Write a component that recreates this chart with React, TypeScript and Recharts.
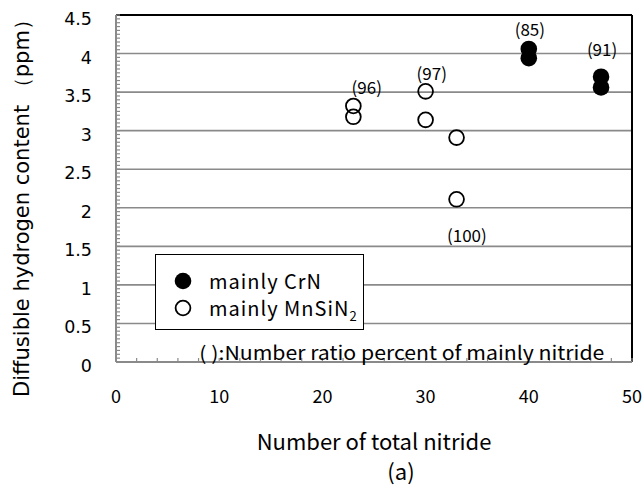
import React from 'react';
import {
    ScatterChart,
    Scatter,
    XAxis,
    YAxis,
    CartesianGrid,
    ReferenceLine,
    ReferenceDot,
    Legend,
} from 'recharts';

// diffusible hydrogen (ppm) vs number of total nitride
const crnPoints = [
    { x: 40, y: 4.06 },
    { x: 40, y: 3.94 },
    { x: 47, y: 3.7 },
    { x: 47, y: 3.56 },
];

const mnsin2Points = [
    { x: 23, y: 3.32 },
    { x: 23, y: 3.18 },
    { x: 30, y: 3.51 },
    { x: 30, y: 3.14 },
    { x: 33, y: 2.91 },
    { x: 33, y: 2.11 },
];

// number ratio percent of the main nitride, placed near each group
const ratioLabels = [
    { x: 40.1, y: 4.31, text: '(85)' },
    { x: 47.1, y: 4.05, text: '(91)' },
    { x: 30.6, y: 3.73, text: '(97)' },
    { x: 24.3, y: 3.55, text: '(96)' },
    { x: 34.0, y: 1.63, text: '(100)' },
];

const xTicks = [0, 10, 20, 30, 40, 50];
const yTicks = [0, 0.5, 1, 1.5, 2, 2.5, 3, 3.5, 4, 4.5];
const xMinorStep = 2;
const yMinorStep = 0.05;

const xMinorTicks = Array.from({ length: 50 / xMinorStep + 1 }, (_, i) => i * xMinorStep);
const yMinorTicks = Array.from({ length: Math.round(4.5 / yMinorStep) + 1 }, (_, i) =>
    Math.round(i * yMinorStep * 100) / 100
);

const gothic = '"Noto Sans CJK JP", "Noto Sans", sans-serif';
const sans = '"DejaVu Sans", "Noto Sans", sans-serif';

const FilledDot = (p: any) => <circle cx={p.cx} cy={p.cy} r={8.3} fill="#000" />;
const OpenDot = (p: any) => (
    <circle cx={p.cx} cy={p.cy} r={7.4} fill="none" stroke="#000" strokeWidth={1.8} />
);

const XTick = ({ x, y, payload }: any) =>
    xTicks.includes(payload.value) ? (
        <text x={x} y={y} dy="0.71em" textAnchor="middle" fontSize={18} fontFamily={gothic} fill="#000">
            {payload.value}
        </text>
    ) : null;

const YTick = ({ x, y, payload }: any) =>
    yTicks.includes(payload.value) ? (
        <text x={x} y={y} dy={10} textAnchor="end" fontSize={17.5} fontFamily={sans} fill="#000">
            {payload.value}
        </text>
    ) : null;

const YTitle = ({ viewBox }: any) => {
    const x = viewBox.x + 22;
    const y = viewBox.y + 188;
    return (
        <text
            x={x}
            y={y}
            transform={`rotate(-90, ${x}, ${y})`}
            textAnchor="middle"
            dominantBaseline="central"
            fontFamily={sans}
            fontSize={21}
            fill="#000"
        >
            Diffusible hydrogen content （ppm）
        </text>
    );
};

const XTitle = ({ viewBox }: any) => {
    const cx = viewBox.x + viewBox.width / 2;
    return (
        <g fontFamily={gothic} fontSize={22} fill="#000">
            <text x={cx} y={viewBox.y + 88} textAnchor="middle">
                Number of total nitride
            </text>
            <text x={cx + 27} y={viewBox.y + 118} textAnchor="middle">
                (a)
            </text>
        </g>
    );
};

const Footnote = ({ viewBox }: any) => (
    <text
        x={viewBox.x}
        y={viewBox.y}
        dy="0.36em"
        textAnchor="middle"
        fontSize={19}
        fontFamily={gothic}
        fill="#000"
        textLength={405}
        lengthAdjust="spacingAndGlyphs"
    >
        ( ):Number ratio percent of  mainly nitride
    </text>
);

const LegendBox = ({ payload }: any) => (
    <div
        style={{
            width: 209,
            height: 76,
            boxSizing: 'border-box',
            border: '1.5px solid #000',
            background: '#fff',
            paddingTop: 12,
            fontFamily: gothic,
            fontSize: 20,
            lineHeight: '26px',
            letterSpacing: 1,
            color: '#000',
        }}
    >
        {(payload || []).map((entry: any) => {
            const filled = entry.value === 'mainly CrN';
            return (
                <div
                    key={entry.value}
                    style={{ display: 'flex', alignItems: 'center', height: 27, paddingLeft: 17 }}
                >
                    <svg width={20} height={20} style={{ marginRight: 16, flexShrink: 0 }}>
                        {filled ? (
                            <circle cx={10} cy={10} r={8.3} fill="#000" />
                        ) : (
                            <circle cx={10} cy={10} r={7.4} fill="none" stroke="#000" strokeWidth={1.8} />
                        )}
                    </svg>
                    <span>
                        {filled ? (
                            'mainly CrN'
                        ) : (
                            <>
                                mainly MnSiN
                                <sub style={{ fontSize: 13, lineHeight: 0 }}>2</sub>
                            </>
                        )}
                    </span>
                </div>
            );
        })}
    </div>
);

const App: React.FC = () => {
    return (
        <div style={{ position: 'absolute', left: 0, top: 0, background: '#fff' }}>
            <ScatterChart width={644} height={489} margin={{ top: 15, right: 12, left: 0, bottom: 0 }}>
                <CartesianGrid
                    xAxisId="main"
                    yAxisId="main"
                    vertical={false}
                    horizontalValues={yTicks}
                    stroke="#8a8a8a"
                    strokeWidth={1.6}
                />
                <XAxis
                    type="number"
                    dataKey="x"
                    xAxisId="main"
                    domain={[0, 50]}
                    ticks={xMinorTicks}
                    interval={0}
                    height={127}
                    tickSize={-4}
                    tickMargin={32}
                    tickLine={{ stroke: '#8a8a8a', strokeWidth: 1.2 }}
                    axisLine={{ stroke: '#8a8a8a', strokeWidth: 2 }}
                    tick={XTick}
                    label={{ content: XTitle }}
                />
                <YAxis
                    type="number"
                    dataKey="y"
                    yAxisId="main"
                    domain={[0, 4.5]}
                    ticks={yMinorTicks}
                    interval={0}
                    width={116}
                    tickSize={-4}
                    tickMargin={28}
                    tickLine={{ stroke: '#8a8a8a', strokeWidth: 1.2 }}
                    axisLine={{ stroke: '#8a8a8a', strokeWidth: 2 }}
                    tick={YTick}
                    label={{ content: YTitle }}
                />
                <ReferenceLine xAxisId="main" yAxisId="main" y={4.5} stroke="#000" strokeWidth={2} />
                <ReferenceLine xAxisId="main" yAxisId="main" x={50} stroke="#000" strokeWidth={2} />
                <Scatter
                    name="mainly CrN"
                    data={crnPoints}
                    xAxisId="main"
                    yAxisId="main"
                    shape={FilledDot}
                    isAnimationActive={false}
                />
                <Scatter
                    name="mainly MnSiN2"
                    data={mnsin2Points}
                    xAxisId="main"
                    yAxisId="main"
                    shape={OpenDot}
                    isAnimationActive={false}
                />
                {ratioLabels.map((a) => (
                    <ReferenceDot
                        key={a.text}
                        xAxisId="main"
                        yAxisId="main"
                        x={a.x}
                        y={a.y}
                        r={0}
                        fill="none"
                        stroke="none"
                        label={{
                            value: a.text,
                            position: 'center',
                            fill: '#000',
                            fontSize: 17,
                            fontFamily: gothic,
                        }}
                    />
                ))}
                <ReferenceDot
                    xAxisId="main"
                    yAxisId="main"
                    x={27.7}
                    y={0.12}
                    r={0}
                    fill="none"
                    stroke="none"
                    label={{ content: Footnote }}
                />
                <Legend
                    layout="vertical"
                    align="center"
                    verticalAlign="middle"
                    content={LegendBox}
                    wrapperStyle={{ left: 155, top: 254, width: 209, height: 76 }}
                />
            </ScatterChart>
        </div>
    );
};

export default App;
